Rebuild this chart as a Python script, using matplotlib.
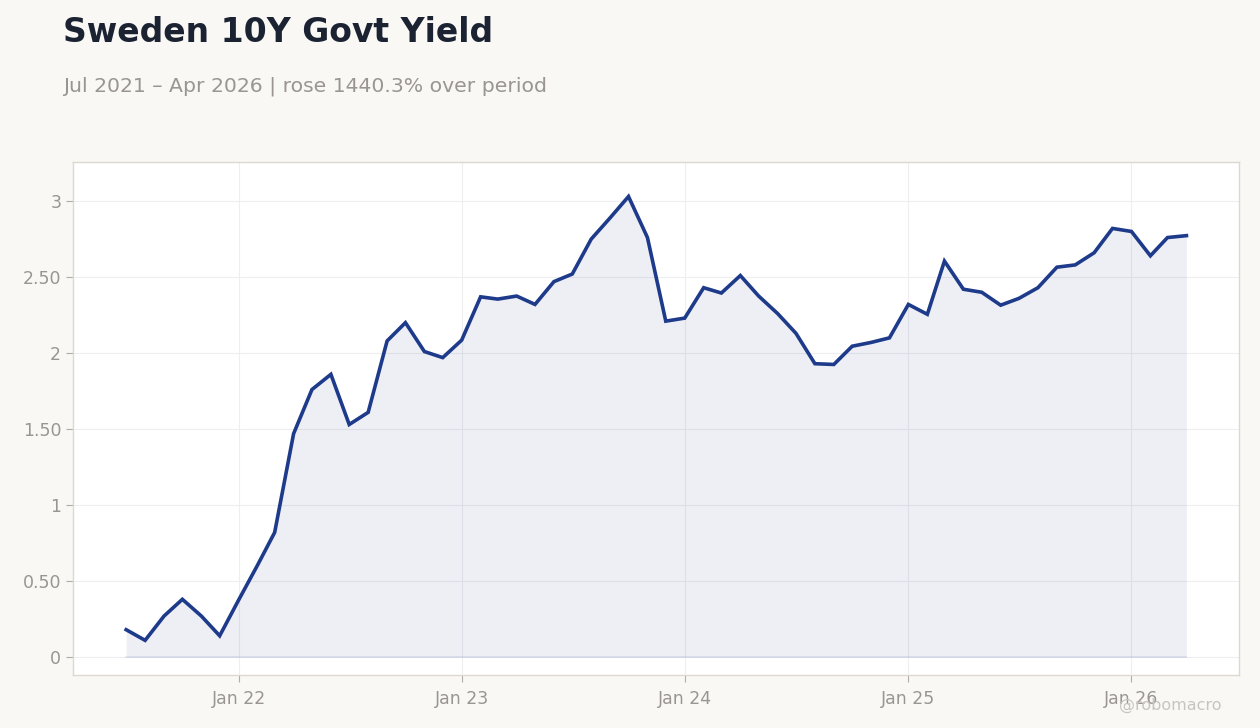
import matplotlib.pyplot as plt
import matplotlib.dates as mdates
import pandas as pd

# monthly observations, Jul 2021 - Apr 2026
months = pd.date_range("2021-07-01", "2026-04-01", freq="MS")
yields = [0.18, 0.11, 0.27, 0.38, 0.27, 0.14,
          0.375, 0.605, 0.82, 1.47, 1.76, 1.86, 1.53, 1.61, 2.08, 2.20, 2.01, 1.97,
          2.085, 2.37, 2.355, 2.375, 2.32, 2.47, 2.52, 2.75, 2.89, 3.03, 2.76, 2.21,
          2.23, 2.43, 2.395, 2.51, 2.375, 2.26, 2.13, 1.93, 1.925, 2.045, 2.07, 2.10,
          2.32, 2.255, 2.605, 2.42, 2.40, 2.315, 2.36, 2.43, 2.565, 2.58, 2.66, 2.82,
          2.80, 2.64, 2.76, 2.7725]

y_ticks = [0, 0.5, 1, 1.5, 2, 2.5, 3]
y_tick_labels = ["0", "0.50", "1", "1.50", "2", "2.50", "3"]
x_ticks = pd.to_datetime(["2022-01-01", "2023-01-01", "2024-01-01", "2025-01-01", "2026-01-01"])
x_tick_labels = ["Jan 22", "Jan 23", "Jan 24", "Jan 25", "Jan 26"]

bg = "#f9f8f5"
line_col = "#1e3a8a"
txt_grey = "#9a9590"

fig = plt.figure(figsize=(12.6, 7.28), dpi=100, facecolor=bg)
ax = fig.add_axes([73 / 1260, 1 - 675 / 728, (1239 - 73) / 1260, (675 - 162) / 728])
ax.set_facecolor("white")

# area + line
ax.fill_between(months, yields, 0, color=line_col, alpha=0.08, linewidth=0)
ax.plot(months, yields, color=line_col, linewidth=2.6, solid_joinstyle="miter")
ax.plot(months, [0] * len(months), color=line_col, alpha=0.1, linewidth=1.2)

ax.set_xlim(pd.Timestamp("2021-04-05"), pd.Timestamp("2026-06-26"))
ax.set_ylim(-0.118, 3.257)

ax.set_yticks(y_ticks)
ax.set_yticklabels(y_tick_labels)
ax.set_xticks(x_ticks)
ax.set_xticklabels(x_tick_labels)

ax.grid(True, color="#eeeef1", linewidth=0.8)
ax.set_axisbelow(True)
ax.tick_params(colors="#b0aca8", labelcolor=txt_grey, labelsize=12.5, length=5, width=0.8)
ax.tick_params(axis="x", pad=6)
for s in ax.spines.values():
    s.set_color("#ddd8d0")
    s.set_linewidth(1)

# titles
fig.text(63 / 1260, 1 - 33 / 728, "Sweden 10Y Govt Yield", fontsize=23.8, fontweight="bold",
         color="#1b2333", va="center", ha="left")
fig.text(63 / 1260, 1 - 86 / 728, "Jul 2021 \u2013 Apr 2026 | rose 1440.3% over period", fontsize=14.65,
         color=txt_grey, va="center", ha="left")

# watermark
fig.text(1222 / 1260, 1 - 705 / 728, "@robomacro", fontsize=11.5, color="#c8c5c0",
         va="center", ha="right")

fig.savefig("out.png", dpi=100, facecolor=bg)
